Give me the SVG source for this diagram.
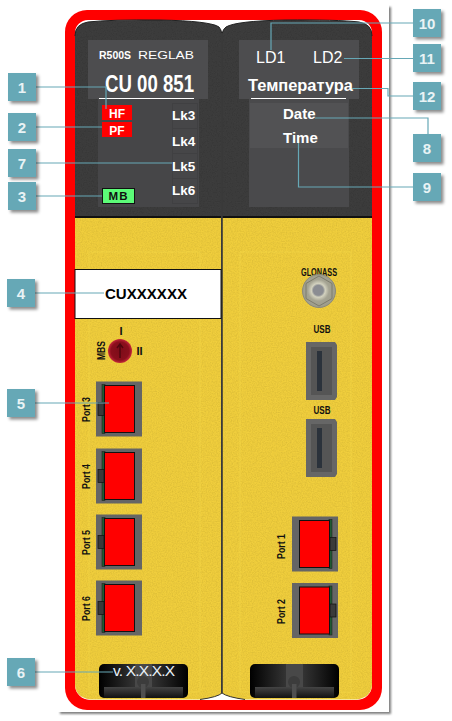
<svg xmlns="http://www.w3.org/2000/svg" width="452" height="721" viewBox="0 0 452 721">
<style>
text{font-family:"Liberation Sans",Arial,sans-serif}
.c{fill:#66a8b6;filter:url(#sh)}
.n{fill:#e9f3f5;font-size:15px;font-weight:bold;text-anchor:middle}
.l{fill:none;stroke:#66a8b6;stroke-width:1.2}
.w{fill:#fff}
.lk{fill:#fff;font-size:13.5px;font-weight:bold}
.k{fill:#111;font-weight:bold;font-size:11px}
.gb{fill:#656565}
.rd{fill:#f00;stroke:#111;stroke-width:1}
.nt{fill:#3a3a3a;stroke:#111;stroke-width:.7}
.ln{fill:none;stroke:#f5d94e;stroke-width:1;opacity:.45}
</style>
<defs>
<filter id="sh" x="-20%" y="-20%" width="150%" height="150%"><feDropShadow dx="2.5" dy="2.5" stdDeviation="1.5" flood-color="#000" flood-opacity=".45"/></filter>
<filter id="page" x="-5%" y="-5%" width="110%" height="110%"><feDropShadow dx="2" dy="2" stdDeviation="1.2" flood-color="#000" flood-opacity=".5"/></filter>
<filter id="grain" x="0" y="0" width="1" height="1"><feTurbulence type="fractalNoise" baseFrequency="0.8" numOctaves="2" seed="3" result="n"/><feColorMatrix in="n" type="matrix" values="0 0 0 0 0 0 0 0 0 0 0 0 0 0 0 0 0 0 .3 -.1"/><feComposite in2="SourceGraphic" operator="in" result="g"/><feMerge><feMergeNode in="SourceGraphic"/><feMergeNode in="g"/></feMerge></filter>
<linearGradient id="hd" x1="0" x2="1" y1="0" y2="0"><stop offset="0" stop-color="#000"/><stop offset=".4" stop-color="#333"/><stop offset=".41" stop-color="#484848"/><stop offset=".59" stop-color="#484848"/><stop offset=".6" stop-color="#333"/><stop offset="1" stop-color="#000"/></linearGradient>
<linearGradient id="hb" x1="0" x2="0" y1="0" y2="1"><stop offset="0" stop-color="#444"/><stop offset="1" stop-color="#111"/></linearGradient>
<radialGradient id="kn"><stop offset="0" stop-color="#7d0c18"/><stop offset=".75" stop-color="#8a0f1c"/><stop offset="1" stop-color="#c5273a"/></radialGradient>
<radialGradient id="gl" cx=".48" cy=".48"><stop offset="0" stop-color="#8b8d92"/><stop offset=".3" stop-color="#8b8d92"/><stop offset=".42" stop-color="#d3d2bf"/><stop offset=".65" stop-color="#a5a493"/><stop offset="1" stop-color="#9e9d8c"/></radialGradient>
<clipPath id="pl"><path d="M75,36Q75,24 88,22Q110,19.500 160,20Q210,21 219,27Q221,29 222,34V693Q218,697 200,699.500H90Q75,697 75,684Z"/></clipPath>
<clipPath id="pr"><path d="M372,36Q372,24 359,22Q337,19.500 285,20Q236,21 226,27Q223,29 222,34V693Q227,697 245,699.500H357Q372,697 372,684Z"/></clipPath>
<g id="port"><rect class="gb" x="0" y="0" width="46" height="55"/><rect x="6" y="3" width="3" height="49" fill="#1f5a32" stroke="#222" stroke-width=".6"/><rect class="nt" x="2" y="21" width="6" height="13"/><rect class="rd" x="8.500" y="4" width="30" height="47"/></g>
<g id="usb"><path d="M0,0H29L31,3V55L29,58H0Z" fill="#666"/><rect x="5" y="5" width="21" height="48" fill="#555"/><rect x="11" y="9" width="5" height="40" fill="#2b323b"/></g>
<g id="handle"><rect x="0" y="0" width="89" height="34" rx="5" fill="url(#hd)"/><rect x="5" y="23" width="79" height="11" fill="url(#hb)"/><circle cx="44" cy="18" r="6" fill="#3c3c3c"/><rect x="42" y="20" width="4.500" height="14" fill="#4f4f4f"/></g>
</defs>

<g id="device">
<rect x="58" y="5" width="331" height="707" fill="#fff" filter="url(#page)"/>
<path fill="#f00" fill-rule="evenodd" d="M87,10H360A22,22 0 0 1 382,32V688A22,22 0 0 1 360,710H87A22,22 0 0 1 65,688V32A22,22 0 0 1 87,10ZM88,20A13,13 0 0 0 75,33V685A15,15 0 0 0 90,700H357A15,15 0 0 0 372,685V33A13,13 0 0 0 359,20Z"/>
<g clip-path="url(#pl)"><rect x="75" y="218" width="147" height="482" fill="#f0ce3c" filter="url(#grain)"/><rect x="75" y="18" width="147" height="198" fill="#3e3e3e" filter="url(#grain)"/><rect x="75" y="216" width="147" height="2" fill="#111"/><rect class="ln" x="89" y="252" width="111" height="440"/></g>
<g clip-path="url(#pr)"><rect x="222" y="218" width="151" height="482" fill="#f0ce3c" filter="url(#grain)"/><rect x="222" y="18" width="151" height="198" fill="#3e3e3e" filter="url(#grain)"/><rect x="222" y="216" width="151" height="2" fill="#111"/><rect class="ln" x="240" y="252" width="111" height="440"/></g>
<path d="M75,36Q75,24 88,22Q110,19.500 160,20Q210,21 219,27Q221,29 222,34Q223,29 226,27Q236,21 285,20Q337,19.500 359,22Q372,24 372,36" fill="none" stroke="#222"/>
<path d="M200,699.500Q218,697 222,693Q227,697 245,699.500" fill="none" stroke="#333"/>
<rect x="221" y="33" width="1.800" height="660" fill="#3a3a3a"/>
</g>

<g id="display-left">
<rect x="88" y="40" width="120" height="59" fill="#4d4d4f"/>
<rect x="98" y="99" width="101" height="108" fill="#464648"/>
<rect x="172.500" y="103.500" width="25" height="100" fill="none" stroke="#404042"/>
<path d="M172.500,128.500H197.500M172.500,153.500H197.500M172.500,178.500H197.500" stroke="#404042"/>
<text x="99" y="59" class="w" font-size="10.500" font-weight="bold" textLength="32" lengthAdjust="spacingAndGlyphs">R500S</text>
<text x="138" y="59" class="w" font-size="11" textLength="56" lengthAdjust="spacingAndGlyphs">REGLAB</text>
<text x="105" y="92" class="w" font-size="23" font-weight="bold" textLength="89" lengthAdjust="spacingAndGlyphs">CU 00 851</text>
<rect x="99" y="98" width="95" height="1" fill="#fff"/>
</g>
<g id="hf"><rect x="102" y="105" width="30" height="15" fill="#f00"/><text x="117" y="118" class="w" font-size="12" font-weight="bold" text-anchor="middle">HF</text></g>
<g id="pf"><rect x="102" y="122" width="30" height="15" fill="#f00"/><text x="117" y="135" class="w" font-size="12" font-weight="bold" text-anchor="middle">PF</text></g>
<g id="mb"><rect x="102.500" y="188.500" width="32" height="15" fill="#5cfb78" stroke="#111"/><text x="118.500" y="200" fill="#111" font-size="11.500" font-weight="bold" text-anchor="middle" letter-spacing="1">MB</text></g>
<g id="lk3"><text x="172" y="120" class="lk">Lk3</text></g>
<g id="lk4"><text x="172" y="145.500" class="lk">Lk4</text></g>
<g id="lk5"><text x="172" y="170.500" class="lk">Lk5</text></g>
<g id="lk6"><text x="172" y="195" class="lk">Lk6</text></g>

<g id="display-right">
<rect x="239" y="40" width="120" height="59" fill="#4d4d4f"/>
<rect x="249" y="99" width="100" height="108" fill="#4a4a4c"/>
<rect x="250" y="103" width="98" height="45" fill="#525254"/>
<rect x="251" y="98" width="95" height="1" fill="#fff"/>
</g>
<g id="ld1"><text x="256" y="63" class="w" font-size="16">LD1</text></g>
<g id="ld2"><text x="313" y="63" class="w" font-size="16">LD2</text></g>
<g id="temp"><text x="248" y="90.500" class="w" font-size="16" font-weight="bold" textLength="105" lengthAdjust="spacingAndGlyphs">Температура</text></g>
<g id="date"><text x="283" y="119" class="w" font-size="15" font-weight="bold">Date</text></g>
<g id="time"><text x="283" y="143" class="w" font-size="15" font-weight="bold">Time</text></g>

<g id="label-cu"><rect x="75" y="269.500" width="146" height="49" fill="#fff" stroke="#111"/><text x="105" y="299" fill="#000" font-size="15.500" font-weight="bold" textLength="82" lengthAdjust="spacingAndGlyphs">CUXXXXXX</text></g>
<g id="mbs">
<circle cx="120" cy="351" r="12" fill="url(#kn)"/>
<path d="M120,358V345M117,348L120,344L123,348" stroke="#50060e" stroke-width="1.500" fill="none"/>
<text x="121" y="335" class="k" text-anchor="middle">I</text>
<text x="139.500" y="355" class="k" text-anchor="middle">II</text>
<text transform="translate(105,360) rotate(-90)" class="k" textLength="19" lengthAdjust="spacingAndGlyphs">MBS</text>
</g>
<g id="port3"><use href="#port" x="96" y="381.500"/><text transform="translate(90,422) rotate(-90)" class="k" textLength="25" lengthAdjust="spacingAndGlyphs">Port 3</text></g>
<g id="port4"><use href="#port" x="96" y="448.500"/><text transform="translate(90,489) rotate(-90)" class="k" textLength="25" lengthAdjust="spacingAndGlyphs">Port 4</text></g>
<g id="port5"><use href="#port" x="96" y="514.500"/><text transform="translate(90,555) rotate(-90)" class="k" textLength="25" lengthAdjust="spacingAndGlyphs">Port 5</text></g>
<g id="port6"><use href="#port" x="96" y="580.500"/><text transform="translate(90,621) rotate(-90)" class="k" textLength="25" lengthAdjust="spacingAndGlyphs">Port 6</text></g>
<g id="handle-left"><use href="#handle" x="99" y="664"/><text x="113" y="676" fill="#e8f0f8" font-size="15.500" textLength="62" lengthAdjust="spacing">v. X.X.X.X</text></g>

<g id="glonass"><text x="319" y="276" class="k" text-anchor="middle" textLength="36" lengthAdjust="spacingAndGlyphs">GLONASS</text>
<circle cx="319" cy="291" r="16.500" fill="url(#gl)" stroke="#8b8a7a"/><path d="M319,276L332,283.500V298.500L319,306L306,298.500V283.500Z" fill="none" stroke="#7d7c6d"/></g>
<g id="usb1"><text x="322" y="333" class="k" text-anchor="middle" textLength="17" lengthAdjust="spacingAndGlyphs">USB</text><use href="#usb" x="306" y="342"/></g>
<g id="usb2"><text x="322" y="414" class="k" text-anchor="middle" textLength="17" lengthAdjust="spacingAndGlyphs">USB</text><use href="#usb" x="306" y="419"/></g>
<g id="port1"><use href="#port" transform="translate(338,516.500) scale(-1,1)"/><text transform="translate(285,559) rotate(-90)" class="k" textLength="25" lengthAdjust="spacingAndGlyphs">Port 1</text></g>
<g id="port2"><use href="#port" transform="translate(338,583) scale(-1,1)"/><text transform="translate(285,624) rotate(-90)" class="k" textLength="25" lengthAdjust="spacingAndGlyphs">Port 2</text></g>
<g id="handle-right"><use href="#handle" x="250" y="664"/></g>

<g id="connectors">
<path class="l" d="M36,87H106V109"/>
<path class="l" d="M36,127H102"/>
<path class="l" d="M36,163H172"/>
<path class="l" d="M36,196H102"/>
<path class="l" d="M35,293H104"/>
<path class="l" d="M35,403H109"/>
<path class="l" d="M35,672H113"/>
<path class="l" d="M413,23H271V50"/>
<path class="l" d="M413,58.500H344"/>
<path class="l" d="M413,96H388V88.500H352"/>
<path class="l" d="M428,134V118H315"/>
<path class="l" d="M413,187H298.500V143"/>
</g>

<g id="callout-1"><rect class="c" x="8" y="73" width="28" height="28"/><text class="n" x="22" y="92.500">1</text></g>
<g id="callout-2"><rect class="c" x="8" y="113" width="28" height="28"/><text class="n" x="22" y="132.500">2</text></g>
<g id="callout-7"><rect class="c" x="8" y="149" width="28" height="28"/><text class="n" x="22" y="168.500">7</text></g>
<g id="callout-3"><rect class="c" x="8" y="182" width="28" height="28"/><text class="n" x="22" y="201.500">3</text></g>
<g id="callout-4"><rect class="c" x="7" y="279" width="28" height="28"/><text class="n" x="21" y="298.500">4</text></g>
<g id="callout-5"><rect class="c" x="7" y="389" width="28" height="28"/><text class="n" x="21" y="408.500">5</text></g>
<g id="callout-6"><rect class="c" x="7" y="658" width="28" height="28"/><text class="n" x="21" y="677.500">6</text></g>
<g id="callout-10"><rect class="c" x="413" y="9" width="28" height="28"/><text class="n" x="427" y="28.500">10</text></g>
<g id="callout-11"><rect class="c" x="413" y="44" width="28" height="28"/><text class="n" x="427" y="63.500">11</text></g>
<g id="callout-12"><rect class="c" x="413" y="82" width="28" height="28"/><text class="n" x="427" y="101.500">12</text></g>
<g id="callout-8"><rect class="c" x="413" y="134" width="28" height="28"/><text class="n" x="427" y="153.500">8</text></g>
<g id="callout-9"><rect class="c" x="413" y="173" width="28" height="28"/><text class="n" x="427" y="192.500">9</text></g>
</svg>
